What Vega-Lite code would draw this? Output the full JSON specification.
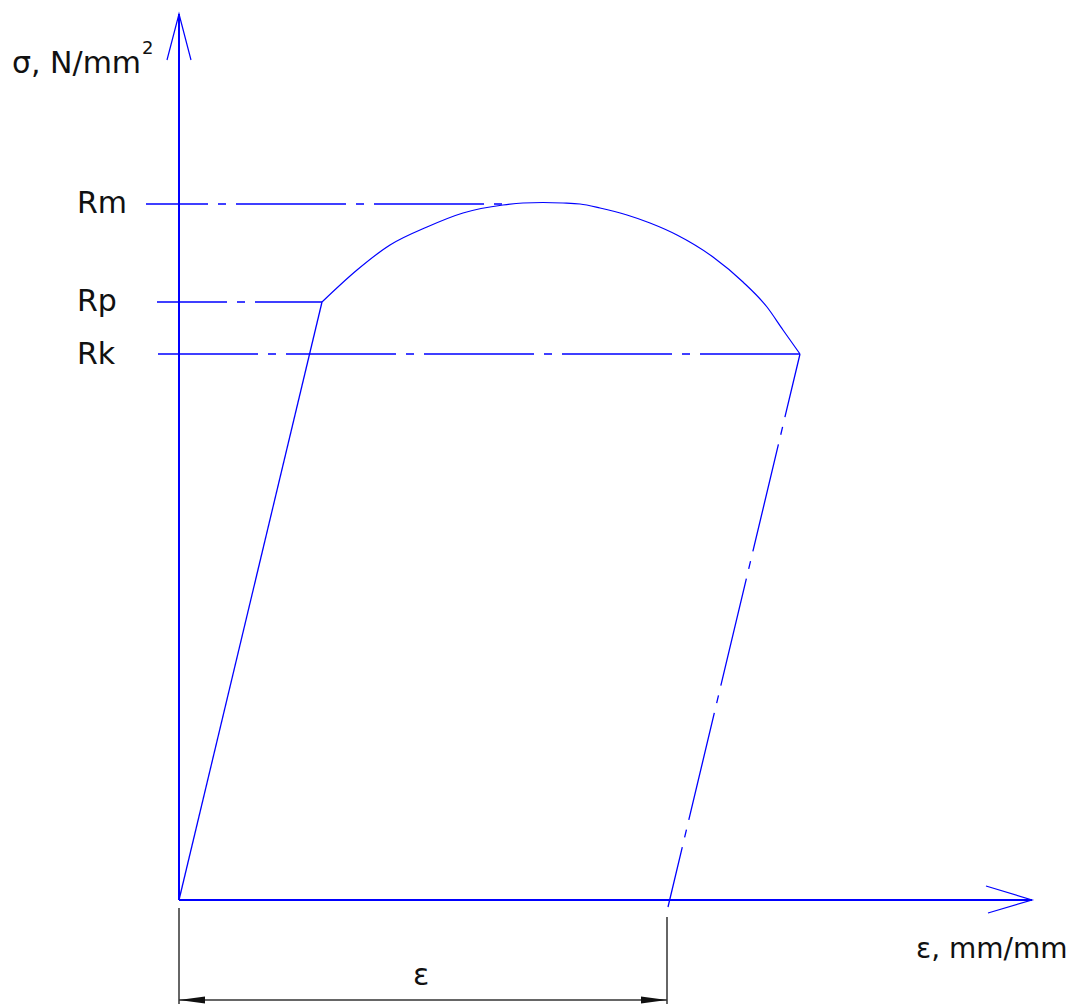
{
  "$schema": "https://vega.github.io/schema/vega-lite/v6.json",
  "width": 1075,
  "height": 1004,
  "autosize": {"type": "none"},
  "padding": 0,
  "background": "white",
  "config": {"view": {"stroke": null}},
  "datasets": {
    "axes": [
      {"seg": "yaxis", "i": 0, "strain": 0, "stress": 0},
      {"seg": "yaxis", "i": 1, "strain": 0, "stress": 886},
      {"seg": "xaxis", "i": 0, "strain": 0, "stress": 0},
      {"seg": "xaxis", "i": 1, "strain": 853, "stress": 0}
    ],
    "arrows": [
      {"seg": "ya", "i": 0, "strain": -12, "stress": 840},
      {"seg": "ya", "i": 1, "strain": 0, "stress": 886},
      {"seg": "ya", "i": 2, "strain": 12, "stress": 840},
      {"seg": "xa", "i": 0, "strain": 807, "stress": 14},
      {"seg": "xa", "i": 1, "strain": 853, "stress": 0},
      {"seg": "xa", "i": 2, "strain": 809, "stress": -13}
    ],
    "elastic": [
      {"i": 0, "strain": 0, "stress": 0},
      {"i": 1, "strain": 143, "stress": 598}
    ],
    "curve": [
      {"i": 0, "strain": 143, "stress": 598},
      {"i": 1, "strain": 178, "stress": 630},
      {"i": 2, "strain": 211, "stress": 655},
      {"i": 3, "strain": 248, "stress": 673},
      {"i": 4, "strain": 284, "stress": 687},
      {"i": 5, "strain": 324, "stress": 695},
      {"i": 6, "strain": 344, "stress": 697},
      {"i": 7, "strain": 364, "stress": 697.5},
      {"i": 8, "strain": 384, "stress": 697},
      {"i": 9, "strain": 401, "stress": 696},
      {"i": 10, "strain": 421, "stress": 692},
      {"i": 11, "strain": 448, "stress": 685},
      {"i": 12, "strain": 471, "stress": 677},
      {"i": 13, "strain": 498, "stress": 665},
      {"i": 14, "strain": 534, "stress": 643},
      {"i": 15, "strain": 564, "stress": 618},
      {"i": 16, "strain": 588, "stress": 593},
      {"i": 17, "strain": 604, "stress": 570},
      {"i": 18, "strain": 621, "stress": 546}
    ],
    "rm": [
      {"i": 0, "strain": -33, "stress": 696},
      {"i": 1, "strain": 326, "stress": 696}
    ],
    "rp": [
      {"i": 0, "strain": -22, "stress": 598},
      {"i": 1, "strain": 143, "stress": 598}
    ],
    "rk": [
      {"i": 0, "strain": -21, "stress": 546},
      {"i": 1, "strain": 621, "stress": 546}
    ],
    "unload": [
      {"i": 0, "strain": 621, "stress": 546},
      {"i": 1, "strain": 489, "stress": -7}
    ],
    "dims": [
      {"seg": "ext1", "i": 0, "strain": 0, "stress": -8},
      {"seg": "ext1", "i": 1, "strain": 0, "stress": -104},
      {"seg": "ext2", "i": 0, "strain": 488, "stress": -17},
      {"seg": "ext2", "i": 1, "strain": 488, "stress": -104},
      {"seg": "dim", "i": 0, "strain": 0, "stress": -100},
      {"seg": "dim", "i": 1, "strain": 488, "stress": -100}
    ],
    "heads": [
      {"arrow": "L", "strain": 0, "stress": -100, "stress2": -100},
      {"arrow": "L", "strain": 26, "stress": -96.5, "stress2": -103.5},
      {"arrow": "R", "strain": 462, "stress": -96.5, "stress2": -103.5},
      {"arrow": "R", "strain": 488, "stress": -100, "stress2": -100}
    ],
    "rlabels": [
      {"label": "Rm", "strain": -102, "stress": 696},
      {"label": "Rp", "strain": -102, "stress": 598},
      {"label": "Rk", "strain": -102, "stress": 545}
    ],
    "ylabel": [
      {"label": "σ, N/mm", "strain": -167, "stress": 827}
    ],
    "xlabel": [
      {"label": "ε, mm/mm", "strain": 737, "stress": -58}
    ],
    "sup": [
      {"label": "2", "strain": -37, "stress": 846}
    ],
    "eps": [
      {"label": "ε", "strain": 242, "stress": -85}
    ]
  },
  "encoding": {
    "x": {"field": "strain", "type": "quantitative", "axis": null, "scale": {"domain": [-179, 896], "nice": false, "zero": false}},
    "y": {"field": "stress", "type": "quantitative", "axis": null, "scale": {"domain": [-104, 900], "nice": false, "zero": false}}
  },
  "layer": [
    {
      "data": {"name": "axes"},
      "mark": {"type": "line", "color": "#0000ff", "strokeWidth": 2},
      "encoding": {"detail": {"field": "seg"}, "order": {"field": "i"}}
    },
    {
      "data": {"name": "arrows"},
      "mark": {"type": "line", "color": "#0000ff", "strokeWidth": 1.2},
      "encoding": {"detail": {"field": "seg"}, "order": {"field": "i"}}
    },
    {
      "data": {"name": "elastic"},
      "mark": {"type": "line", "color": "#0000ff", "strokeWidth": 1.3},
      "encoding": {"order": {"field": "i"}}
    },
    {
      "data": {"name": "curve"},
      "mark": {"type": "line", "color": "#0000ff", "strokeWidth": 1.2, "interpolate": "monotone"},
      "encoding": {"order": {"field": "i"}}
    },
    {
      "data": {"name": "rm"},
      "mark": {"type": "line", "color": "#0000ff", "strokeWidth": 1.7, "strokeDash": [110, 10, 8, 10], "strokeDashOffset": 48},
      "encoding": {"order": {"field": "i"}}
    },
    {
      "data": {"name": "rp"},
      "mark": {"type": "line", "color": "#0000ff", "strokeWidth": 1.7, "strokeDash": [110, 10, 8, 10], "strokeDashOffset": 40},
      "encoding": {"order": {"field": "i"}}
    },
    {
      "data": {"name": "rk"},
      "mark": {"type": "line", "color": "#0000ff", "strokeWidth": 1.7, "strokeDash": [110, 10, 8, 10], "strokeDashOffset": 10},
      "encoding": {"order": {"field": "i"}}
    },
    {
      "data": {"name": "unload"},
      "mark": {"type": "line", "color": "#0000ff", "strokeWidth": 1.3, "strokeDash": [110, 10, 8, 10], "strokeDashOffset": 45},
      "encoding": {"order": {"field": "i"}}
    },
    {
      "data": {"name": "dims"},
      "mark": {"type": "line", "color": "#333333", "strokeWidth": 1.5},
      "encoding": {"detail": {"field": "seg"}, "order": {"field": "i"}}
    },
    {
      "data": {"name": "heads"},
      "mark": {"type": "area", "color": "#111111", "opacity": 1},
      "encoding": {"y2": {"field": "stress2"}, "detail": {"field": "arrow"}}
    },
    {
      "data": {"name": "rlabels"},
      "mark": {"type": "text", "font": "DejaVu Sans", "fontSize": 30, "align": "left", "baseline": "middle", "color": "#111111"},
      "encoding": {"text": {"field": "label"}}
    },
    {
      "data": {"name": "ylabel"},
      "mark": {"type": "text", "font": "DejaVu Sans", "fontSize": 30, "align": "left", "baseline": "alphabetic", "color": "#111111"},
      "encoding": {"text": {"field": "label"}}
    },
    {
      "data": {"name": "xlabel"},
      "mark": {"type": "text", "font": "DejaVu Sans", "fontSize": 28, "align": "left", "baseline": "alphabetic", "color": "#111111"},
      "encoding": {"text": {"field": "label"}}
    },
    {
      "data": {"name": "sup"},
      "mark": {"type": "text", "font": "DejaVu Sans", "fontSize": 18, "align": "left", "baseline": "alphabetic", "color": "#111111"},
      "encoding": {"text": {"field": "label"}}
    },
    {
      "data": {"name": "eps"},
      "mark": {"type": "text", "font": "DejaVu Sans", "fontSize": 30, "align": "center", "baseline": "alphabetic", "color": "#111111"},
      "encoding": {"text": {"field": "label"}}
    }
  ]
}
